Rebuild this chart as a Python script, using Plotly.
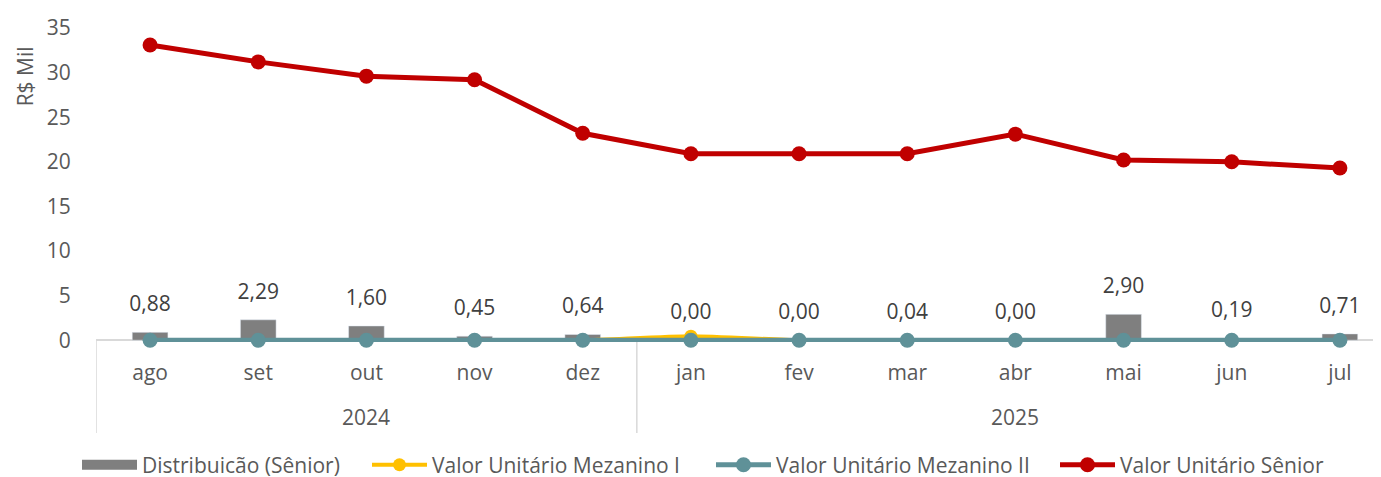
import plotly.graph_objects as go

months = ["ago", "set", "out", "nov", "dez", "jan", "fev", "mar", "abr", "mai", "jun", "jul"]
years = ["2024", "2025"]
distribuicao = [0.88, 2.29, 1.60, 0.45, 0.64, 0.00, 0.00, 0.04, 0.00, 2.90, 0.19, 0.71]
mezanino1 = [0, 0, 0, 0, 0, 0.45, 0, 0, 0, 0, 0, 0]
mezanino2 = [0, 0, 0, 0, 0, 0, 0, 0, 0, 0, 0, 0]
senior = [33.1, 31.2, 29.6, 29.2, 23.2, 20.9, 20.9, 20.9, 23.1, 20.2, 20.0, 19.3]

FONT = "Open Sans"
TXT = "#404040"
TICK = "#595959"
FS = 21
W, H = 1373, 469  # page body has an 8px margin

fig = go.Figure()
fig.add_trace(go.Bar(
    x=months, y=distribuicao, name="Distribuicão (Sênior)",
    marker=dict(color="#7f7f7f"), width=0.33, showlegend=False,
))
# bar value labels
fig.add_trace(go.Scatter(
    x=months, y=distribuicao, mode="markers+text", showlegend=False,
    marker=dict(size=24, opacity=0),
    text=[f"{v:.2f}".replace(".", ",") for v in distribuicao],
    textposition="top center", cliponaxis=False, hoverinfo="skip",
    textfont=dict(family=FONT, size=FS, color=TXT),
))
# legend entry for bars
fig.add_trace(go.Scatter(
    x=[None], y=[None], mode="lines", name="Distribuicão (Sênior)",
    line=dict(color="#7f7f7f", width=10), legend="legend",
))
fig.add_trace(go.Scatter(
    x=months, y=mezanino1, name="Valor Unitário Mezanino I", mode="lines+markers",
    line=dict(color="#FFC000", width=4, shape="spline", smoothing=0.6),
    marker=dict(size=13, color="#FFC000"), cliponaxis=False, legend="legend2",
))
fig.add_trace(go.Scatter(
    x=months, y=mezanino2, name="Valor Unitário Mezanino II", mode="lines+markers",
    line=dict(color="#5F9198", width=5),
    marker=dict(size=15, color="#5F9198"), cliponaxis=False, legend="legend3",
))
fig.add_trace(go.Scatter(
    x=months, y=senior, name="Valor Unitário Sênior", mode="lines+markers",
    line=dict(color="#C00000", width=5),
    marker=dict(size=15, color="#C00000"), cliponaxis=False, legend="legend4",
))

# year group labels and dividers
fig.add_annotation(x=2, y=-0.238, xref="x", yref="paper", text=years[0], showarrow=False,
                   font=dict(family=FONT, size=FS, color=TICK), yanchor="middle")
fig.add_annotation(x=8, y=-0.238, xref="x", yref="paper", text=years[1], showarrow=False,
                   font=dict(family=FONT, size=FS, color=TICK), yanchor="middle")
for xv in [-0.5, 4.5]:
    fig.add_shape(type="line", xref="x", yref="paper", x0=xv, x1=xv, y0=0.006, y1=-0.29,
                  line=dict(color="#d9d9d9", width=1.5), layer="below")

fig.add_annotation(x=0, y=0.846, xref="paper", yref="paper", xshift=-71, text="R$ Mil",
                   xanchor="center", yanchor="middle",
                   textangle=-90, showarrow=False, font=dict(family=FONT, size=FS, color=TICK))

def leg(px):
    return dict(orientation="h", xref="container", yref="paper",
                x=(px - 13) / W, xanchor="left", y=-0.392, yanchor="middle",
                font=dict(family=FONT, size=FS, color=TICK), itemwidth=55,
                bgcolor="rgba(0,0,0,0)")

fig.update_layout(
    width=W, height=H,
    margin=dict(l=88, r=0, t=20, b=135, autoexpand=False),
    plot_bgcolor="white", paper_bgcolor="white",
    separators=",.",
    barmode="overlay",
    font=dict(family=FONT, size=FS, color=TICK),
    xaxis=dict(
        type="category", range=[-0.5, 11.38], showgrid=False, automargin=False,
        showline=False,
        ticks="outside", ticklen=12, tickcolor="rgba(0,0,0,0)",
        tickfont=dict(family=FONT, size=FS, color=TICK),
    ),
    yaxis=dict(
        range=[-0.2, 35], tickvals=[0, 5, 10, 15, 20, 25, 30, 35],
        showgrid=False, showline=False, automargin=False,
        zeroline=True, zerolinecolor="#d9d9d9", zerolinewidth=1.5,
        ticks="outside", ticklen=20, tickcolor="rgba(0,0,0,0)",
        tickfont=dict(family=FONT, size=FS, color=TICK),
    ),
    legend=leg(82),
    legend2=leg(372),
    legend3=leg(716),
    legend4=leg(1060),
    showlegend=True,
)

fig.write_html("out.html")
